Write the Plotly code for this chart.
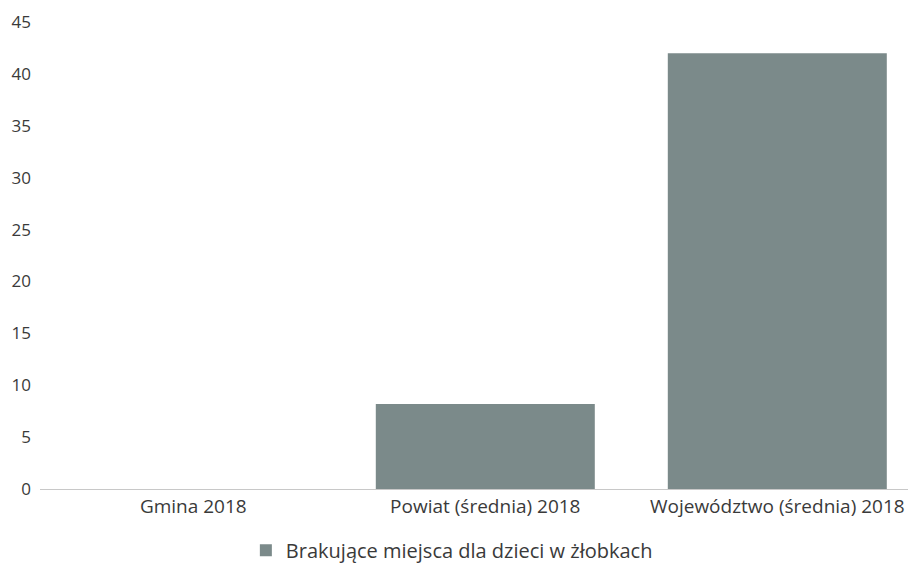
import plotly.graph_objects as go

categories = ["Gmina 2018", "Powiat (średnia) 2018", "Województwo (średnia) 2018"]
values = [0, 8.2, 42]
series_name = "Brakujące miejsca dla dzieci w żłobkach"
y_ticks = [0, 5, 10, 15, 20, 25, 30, 35, 40, 45]

fig = go.Figure()
fig.add_trace(go.Bar(
    x=categories, y=values, name=series_name,
    marker=dict(color="#7b8a8a", line=dict(width=0)),
    showlegend=True,
))

fig.update_layout(
    width=908, height=558,
    margin=dict(l=32, r=0, t=14, b=77, autoexpand=False),
    paper_bgcolor="white", plot_bgcolor="white",
    font=dict(family="Open Sans, DejaVu Sans, sans-serif", size=18, color="#3a3a3a"),
    bargap=0.25,
    showlegend=True,
    legend=dict(orientation="h", x=0.235, xanchor="left", y=-0.131, yanchor="middle",
                itemwidth=30, font=dict(size=20, color="#3a3a3a")),
    xaxis=dict(showgrid=False, showline=True, linecolor="#c8c8c8", linewidth=1,
               ticks="", tickfont=dict(size=19), range=[-0.525, 2.475]),
    yaxis=dict(range=[0, 45], tickvals=y_ticks, showgrid=False, zeroline=False,
               showline=False, ticks="", tickfont=dict(size=17), ticklabelstandoff=8),
)

fig.write_html("out.html")
